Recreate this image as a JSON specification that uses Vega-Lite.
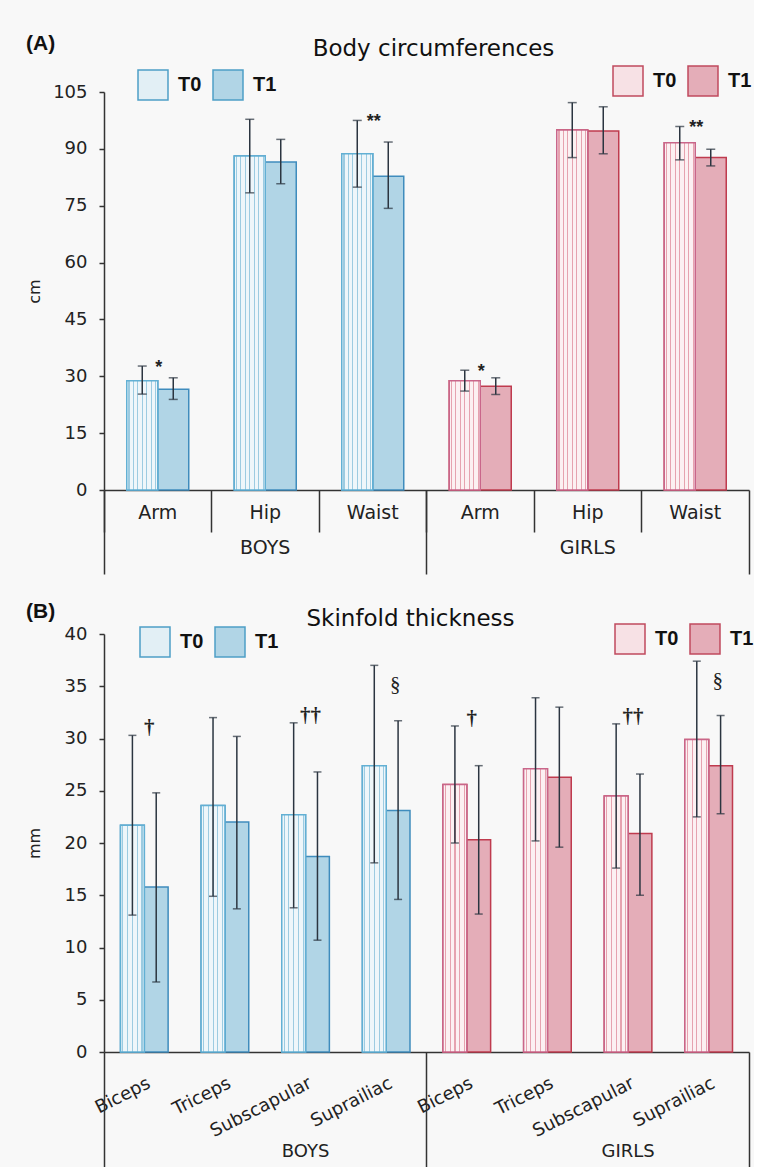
{
  "$schema": "https://vega.github.io/schema/vega-lite/v6.json",
  "background": "#f8f8f8",
  "padding": {"left": 26, "top": 33, "right": 0, "bottom": 0},
  "spacing": 26,
  "resolve": {"scale": {"xOffset": "independent", "x": "independent", "y": "independent", "fill": "independent"}},
  "datasets": {
    "circ": [
      {"group": "BOYS", "cat": "BOYS Arm", "time": "T0", "mean": 28.8, "lo": 25.3, "hi": 32.7, "sig": "*"},
      {"group": "BOYS", "cat": "BOYS Arm", "time": "T1", "mean": 26.6, "lo": 23.9, "hi": 29.6, "sig": null},
      {"group": "BOYS", "cat": "BOYS Hip", "time": "T0", "mean": 88.1, "lo": 78.4, "hi": 97.8, "sig": null},
      {"group": "BOYS", "cat": "BOYS Hip", "time": "T1", "mean": 86.5, "lo": 80.8, "hi": 92.5, "sig": null},
      {"group": "BOYS", "cat": "BOYS Waist", "time": "T0", "mean": 88.7, "lo": 79.9, "hi": 97.5, "sig": "**"},
      {"group": "BOYS", "cat": "BOYS Waist", "time": "T1", "mean": 82.8, "lo": 74.3, "hi": 91.8, "sig": null},
      {"group": "GIRLS", "cat": "GIRLS Arm", "time": "T0", "mean": 28.8, "lo": 26.1, "hi": 31.6, "sig": "*"},
      {"group": "GIRLS", "cat": "GIRLS Arm", "time": "T1", "mean": 27.4, "lo": 25.2, "hi": 29.6, "sig": null},
      {"group": "GIRLS", "cat": "GIRLS Hip", "time": "T0", "mean": 95.0, "lo": 87.7, "hi": 102.2, "sig": null},
      {"group": "GIRLS", "cat": "GIRLS Hip", "time": "T1", "mean": 94.7, "lo": 88.7, "hi": 101.1, "sig": null},
      {"group": "GIRLS", "cat": "GIRLS Waist", "time": "T0", "mean": 91.6, "lo": 87.1, "hi": 95.9, "sig": "**"},
      {"group": "GIRLS", "cat": "GIRLS Waist", "time": "T1", "mean": 87.7, "lo": 85.5, "hi": 89.9, "sig": null}
    ],
    "skin": [
      {"group": "BOYS", "cat": "BOYS Biceps", "time": "T0", "mean": 21.7, "lo": 13.1, "hi": 30.3, "sig": "†"},
      {"group": "BOYS", "cat": "BOYS Biceps", "time": "T1", "mean": 15.8, "lo": 6.7, "hi": 24.8, "sig": null},
      {"group": "BOYS", "cat": "BOYS Triceps", "time": "T0", "mean": 23.6, "lo": 14.9, "hi": 32.0, "sig": null},
      {"group": "BOYS", "cat": "BOYS Triceps", "time": "T1", "mean": 22.0, "lo": 13.7, "hi": 30.2, "sig": null},
      {"group": "BOYS", "cat": "BOYS Subscapular", "time": "T0", "mean": 22.7, "lo": 13.8, "hi": 31.5, "sig": "††"},
      {"group": "BOYS", "cat": "BOYS Subscapular", "time": "T1", "mean": 18.7, "lo": 10.7, "hi": 26.8, "sig": null},
      {"group": "BOYS", "cat": "BOYS Suprailiac", "time": "T0", "mean": 27.4, "lo": 18.1, "hi": 37.0, "sig": "§"},
      {"group": "BOYS", "cat": "BOYS Suprailiac", "time": "T1", "mean": 23.1, "lo": 14.6, "hi": 31.7, "sig": null},
      {"group": "GIRLS", "cat": "GIRLS Biceps", "time": "T0", "mean": 25.6, "lo": 20.0, "hi": 31.2, "sig": "†"},
      {"group": "GIRLS", "cat": "GIRLS Biceps", "time": "T1", "mean": 20.3, "lo": 13.2, "hi": 27.4, "sig": null},
      {"group": "GIRLS", "cat": "GIRLS Triceps", "time": "T0", "mean": 27.1, "lo": 20.2, "hi": 33.9, "sig": null},
      {"group": "GIRLS", "cat": "GIRLS Triceps", "time": "T1", "mean": 26.3, "lo": 19.6, "hi": 33.0, "sig": null},
      {"group": "GIRLS", "cat": "GIRLS Subscapular", "time": "T0", "mean": 24.5, "lo": 17.6, "hi": 31.4, "sig": "††"},
      {"group": "GIRLS", "cat": "GIRLS Subscapular", "time": "T1", "mean": 20.9, "lo": 15.0, "hi": 26.6, "sig": null},
      {"group": "GIRLS", "cat": "GIRLS Suprailiac", "time": "T0", "mean": 29.9, "lo": 22.5, "hi": 37.4, "sig": "§"},
      {"group": "GIRLS", "cat": "GIRLS Suprailiac", "time": "T1", "mean": 27.4, "lo": 22.8, "hi": 32.2, "sig": null}
    ]
  },
  "config": {
    "font": "DejaVu Sans",
    "view": {"stroke": null},
    "axis": {"labelFont": "DejaVu Sans", "titleFont": "DejaVu Sans", "labelColor": "#222", "titleColor": "#222", "domainColor": "#333", "tickColor": "#333", "domainWidth": 1.5, "tickWidth": 1.5, "grid": false, "titleFontWeight": "normal"},
    "legend": {"labelFont": "Liberation Sans", "labelFontWeight": "bold", "labelFontSize": 20, "labelColor": "#111", "symbolType": "square", "symbolSize": 900, "direction": "horizontal", "orient": "none", "title": null, "labelOffset": 9, "columnPadding": 8, "symbolStrokeWidth": 1.5, "symbolOpacity": 1},
    "title": {"font": "DejaVu Sans", "color": "#111"}
  },
  "vconcat": [
    {
      "title": {"text": "(A)", "font": "Liberation Sans", "anchor": "start", "frame": "bounds", "fontSize": 21, "fontWeight": "bold", "dy": 16, "offset": 0},
      "resolve": {"scale": {"xOffset": "independent"}},
      "vconcat": [
        {
          "title": {"text": "Body circumferences", "fontSize": 23, "fontWeight": "normal", "anchor": "middle", "offset": 4, "dx": 7},
          "width": 645,
          "height": 398,
          "data": {"name": "circ"},
          "layer": [
            {
              "transform": [{"filter": "datum.group === 'BOYS'"}],
              "mark": {"type": "bar", "stroke": "#3f8cbd", "strokeWidth": 1.5},
              "encoding": {
                "x": {"field": "cat", "type": "nominal", "sort": null, "scale": {"domain": ["BOYS Arm", "BOYS Hip", "BOYS Waist", "GIRLS Arm", "GIRLS Hip", "GIRLS Waist"], "paddingInner": 0, "paddingOuter": 0}, "axis": {"labelExpr": "split(datum.label, ' ')[1]", "ticks": false, "labelAngle": 0, "labelFontSize": 19, "labelPadding": 13, "title": null, "orient": "bottom"}},
                "xOffset": {"field": "time", "type": "nominal", "scale": {"domain": ["T0", "T1"], "paddingInner": 0, "paddingOuter": 0.734}},
                "y": {"field": "mean", "type": "quantitative", "scale": {"domain": [0, 105], "nice": false}, "axis": {"title": "cm", "values": [0, 15, 30, 45, 60, 75, 90, 105], "tickSize": 5, "labelFontSize": 18, "labelPadding": 12, "titleFontSize": 16, "titlePadding": 10, "minExtent": 52, "maxExtent": 52}},
                "fill": {"field": "time", "type": "nominal", "scale": {"domain": ["T0", "T1"], "range": ["#e2eff5", "#b1d5e6"]},
                  "legend": {"orient": "none", "legendX": 33, "legendY": -23, "direction": "horizontal", "symbolStrokeColor": "#4d9fc6", "title": null}}
              }
            },
            {
              "transform": [{"filter": "datum.group === 'GIRLS'"}],
              "mark": {"type": "bar", "stroke": "#bf3b4e", "strokeWidth": 1.5},
              "encoding": {
                "x": {"field": "cat", "type": "nominal", "sort": null, "axis": {"orient": "bottom", "bandPosition": 0, "ticks": true, "tickSize": 42, "labels": false, "domain": false, "title": null}},
                "xOffset": {"field": "time", "type": "nominal"},
                "y": {"field": "mean", "type": "quantitative"},
                "fill": {"field": "time", "type": "nominal", "scale": {"domain": ["T0", "T1"], "range": ["#f7e1e5", "#e4adb8"]},
                  "legend": {"orient": "none", "legendX": 508, "legendY": -27, "direction": "horizontal", "symbolStrokeColor": "#c04a5e", "title": null}}
              }
            },
            {
              "transform": [{"filter": "datum.group === 'BOYS' && datum.time === 'T0'"}],
              "mark": {"type": "bar", "stroke": "#62b0d4", "strokeWidth": 1.5, "fill": {"gradient": "linear", "x1": 0, "y1": 0, "x2": 1, "y2": 0, "stops": [
                {"offset": 0, "color": "#eef6fa"}, {"offset": 0.055, "color": "#eef6fa"}, {"offset": 0.055, "color": "#9ccbe1"}, {"offset": 0.09, "color": "#9ccbe1"}, {"offset": 0.09, "color": "#eef6fa"},
                {"offset": 0.198, "color": "#eef6fa"}, {"offset": 0.198, "color": "#9ccbe1"}, {"offset": 0.233, "color": "#9ccbe1"}, {"offset": 0.233, "color": "#eef6fa"},
                {"offset": 0.341, "color": "#eef6fa"}, {"offset": 0.341, "color": "#9ccbe1"}, {"offset": 0.376, "color": "#9ccbe1"}, {"offset": 0.376, "color": "#eef6fa"},
                {"offset": 0.484, "color": "#eef6fa"}, {"offset": 0.484, "color": "#9ccbe1"}, {"offset": 0.519, "color": "#9ccbe1"}, {"offset": 0.519, "color": "#eef6fa"},
                {"offset": 0.626, "color": "#eef6fa"}, {"offset": 0.626, "color": "#9ccbe1"}, {"offset": 0.661, "color": "#9ccbe1"}, {"offset": 0.661, "color": "#eef6fa"},
                {"offset": 0.769, "color": "#eef6fa"}, {"offset": 0.769, "color": "#9ccbe1"}, {"offset": 0.804, "color": "#9ccbe1"}, {"offset": 0.804, "color": "#eef6fa"},
                {"offset": 0.912, "color": "#eef6fa"}, {"offset": 0.912, "color": "#9ccbe1"}, {"offset": 0.947, "color": "#9ccbe1"}, {"offset": 0.947, "color": "#eef6fa"},
                {"offset": 1, "color": "#eef6fa"}]}},
              "encoding": {
                "x": {"field": "cat", "type": "nominal", "sort": null, "axis": {"orient": "bottom", "values": ["BOYS Arm", "GIRLS Arm"], "bandPosition": 0, "ticks": true, "tickSize": 84, "labels": false, "domain": false, "title": null}},
                "xOffset": {"field": "time", "type": "nominal"},
                "y": {"field": "mean", "type": "quantitative"}
              }
            },
            {
              "transform": [{"filter": "datum.group === 'GIRLS' && datum.time === 'T0'"}],
              "mark": {"type": "bar", "stroke": "#c9668a", "strokeWidth": 1.5, "fill": {"gradient": "linear", "x1": 0, "y1": 0, "x2": 1, "y2": 0, "stops": [
                {"offset": 0, "color": "#fcf0f2"}, {"offset": 0.055, "color": "#fcf0f2"}, {"offset": 0.055, "color": "#e6a2af"}, {"offset": 0.09, "color": "#e6a2af"}, {"offset": 0.09, "color": "#fcf0f2"},
                {"offset": 0.198, "color": "#fcf0f2"}, {"offset": 0.198, "color": "#e6a2af"}, {"offset": 0.233, "color": "#e6a2af"}, {"offset": 0.233, "color": "#fcf0f2"},
                {"offset": 0.341, "color": "#fcf0f2"}, {"offset": 0.341, "color": "#e6a2af"}, {"offset": 0.376, "color": "#e6a2af"}, {"offset": 0.376, "color": "#fcf0f2"},
                {"offset": 0.484, "color": "#fcf0f2"}, {"offset": 0.484, "color": "#e6a2af"}, {"offset": 0.519, "color": "#e6a2af"}, {"offset": 0.519, "color": "#fcf0f2"},
                {"offset": 0.626, "color": "#fcf0f2"}, {"offset": 0.626, "color": "#e6a2af"}, {"offset": 0.661, "color": "#e6a2af"}, {"offset": 0.661, "color": "#fcf0f2"},
                {"offset": 0.769, "color": "#fcf0f2"}, {"offset": 0.769, "color": "#e6a2af"}, {"offset": 0.804, "color": "#e6a2af"}, {"offset": 0.804, "color": "#fcf0f2"},
                {"offset": 0.912, "color": "#fcf0f2"}, {"offset": 0.912, "color": "#e6a2af"}, {"offset": 0.947, "color": "#e6a2af"}, {"offset": 0.947, "color": "#fcf0f2"},
                {"offset": 1, "color": "#fcf0f2"}]}},
              "encoding": {
                "x": {"field": "cat", "type": "nominal", "sort": null, "axis": {"orient": "bottom", "values": ["GIRLS Waist"], "bandPosition": 1, "ticks": true, "tickSize": 84, "labels": false, "domain": false, "title": null}},
                "xOffset": {"field": "time", "type": "nominal"},
                "y": {"field": "mean", "type": "quantitative"}
              }
            },
            {
              "mark": {"type": "rule", "color": "#2b3540", "strokeWidth": 1.5},
              "encoding": {
                "x": {"field": "cat", "type": "nominal", "sort": null, "axis": {"orient": "bottom", "values": ["BOYS Hip", "GIRLS Hip"], "labelExpr": "split(datum.label, ' ')[0]", "ticks": false, "domain": false, "labelPadding": 48, "labelFontSize": 19, "labelAngle": 0, "title": null}},
                "xOffset": {"field": "time", "type": "nominal"},
                "y": {"field": "lo", "type": "quantitative"},
                "y2": {"field": "hi"}
              }
            },
            {
              "mark": {"type": "tick", "color": "#2b3540", "thickness": 1.5, "size": 9, "orient": "horizontal"},
              "encoding": {
                "x": {"field": "cat", "type": "nominal", "sort": null, "axis": null},
                "xOffset": {"field": "time", "type": "nominal"},
                "y": {"field": "hi", "type": "quantitative"}
              }
            },
            {
              "mark": {"type": "tick", "color": "#2b3540", "thickness": 1.5, "size": 9, "orient": "horizontal"},
              "encoding": {
                "x": {"field": "cat", "type": "nominal", "sort": null, "axis": null},
                "xOffset": {"field": "time", "type": "nominal"},
                "y": {"field": "lo", "type": "quantitative"}
              }
            },
            {
              "transform": [{"filter": "datum.sig != null"}],
              "mark": {"type": "text", "font": "Liberation Sans", "fontSize": 18, "fontWeight": "bold", "color": "#222", "baseline": "middle", "dy": 2, "dx": 1},
              "encoding": {
                "x": {"field": "cat", "type": "nominal", "sort": null, "axis": null},
                "y": {"field": "hi", "type": "quantitative"},
                "text": {"field": "sig"}
              }
            }
          ],
          "resolve": {"scale": {"fill": "independent"}, "legend": {"fill": "independent"}, "axis": {"x": "independent"}}
        }
      ]
    },
    {
      "title": {"text": "(B)", "font": "Liberation Sans", "anchor": "start", "frame": "bounds", "fontSize": 21, "fontWeight": "bold", "dy": 14, "offset": 0},
      "resolve": {"scale": {"xOffset": "independent"}},
      "vconcat": [
        {
          "title": {"text": "Skinfold thickness", "fontSize": 23, "fontWeight": "normal", "anchor": "middle", "offset": -8, "dx": -16},
          "width": 645,
          "height": 418,
          "data": {"name": "skin"},
          "layer": [
            {
              "transform": [{"filter": "datum.group === 'BOYS'"}],
              "mark": {"type": "bar", "stroke": "#3f8cbd", "strokeWidth": 1.5},
              "encoding": {
                "x": {"field": "cat", "type": "nominal", "sort": null, "scale": {"domain": ["BOYS Biceps", "BOYS Triceps", "BOYS Subscapular", "BOYS Suprailiac", "GIRLS Biceps", "GIRLS Triceps", "GIRLS Subscapular", "GIRLS Suprailiac"], "paddingInner": 0, "paddingOuter": 0}, "axis": {"labelExpr": "split(datum.label, ' ')[1]", "ticks": false, "labelAngle": -27, "labelAlign": "right", "labelBaseline": "middle", "labelFontSize": 18, "labelPadding": 30, "labelOffset": 5, "title": null, "orient": "bottom", "labelOverlap": false}},
                "xOffset": {"field": "time", "type": "nominal", "scale": {"domain": ["T0", "T1"], "paddingInner": 0, "paddingOuter": 0.693}},
                "y": {"field": "mean", "type": "quantitative", "scale": {"domain": [0, 40], "nice": false}, "axis": {"title": "mm", "values": [0, 5, 10, 15, 20, 25, 30, 35, 40], "tickSize": 5, "labelFontSize": 18, "labelPadding": 12, "titleFontSize": 16, "titlePadding": 10, "minExtent": 52, "maxExtent": 52}},
                "fill": {"field": "time", "type": "nominal", "scale": {"domain": ["T0", "T1"], "range": ["#e2eff5", "#b1d5e6"]},
                  "legend": {"orient": "none", "legendX": 35, "legendY": -8, "direction": "horizontal", "symbolStrokeColor": "#4d9fc6", "title": null}}
              }
            },
            {
              "transform": [{"filter": "datum.group === 'GIRLS'"}],
              "mark": {"type": "bar", "stroke": "#bf3b4e", "strokeWidth": 1.5},
              "encoding": {
                "x": {"field": "cat", "type": "nominal", "sort": null, "axis": {"orient": "bottom", "values": ["BOYS Biceps", "GIRLS Biceps"], "bandPosition": 0, "ticks": true, "tickSize": 130, "labels": false, "domain": false, "title": null}},
                "xOffset": {"field": "time", "type": "nominal"},
                "y": {"field": "mean", "type": "quantitative"},
                "fill": {"field": "time", "type": "nominal", "scale": {"domain": ["T0", "T1"], "range": ["#f7e1e5", "#e4adb8"]},
                  "legend": {"orient": "none", "legendX": 510, "legendY": -11, "direction": "horizontal", "symbolStrokeColor": "#c04a5e", "title": null}}
              }
            },
            {
              "transform": [{"filter": "datum.group === 'BOYS' && datum.time === 'T0'"}],
              "mark": {"type": "bar", "stroke": "#62b0d4", "strokeWidth": 1.5, "fill": {"gradient": "linear", "x1": 0, "y1": 0, "x2": 1, "y2": 0, "stops": [
                {"offset": 0, "color": "#eef6fa"}, {"offset": 0.08, "color": "#eef6fa"}, {"offset": 0.08, "color": "#9ccbe1"}, {"offset": 0.125, "color": "#9ccbe1"}, {"offset": 0.125, "color": "#eef6fa"},
                {"offset": 0.28, "color": "#eef6fa"}, {"offset": 0.28, "color": "#9ccbe1"}, {"offset": 0.325, "color": "#9ccbe1"}, {"offset": 0.325, "color": "#eef6fa"},
                {"offset": 0.48, "color": "#eef6fa"}, {"offset": 0.48, "color": "#9ccbe1"}, {"offset": 0.525, "color": "#9ccbe1"}, {"offset": 0.525, "color": "#eef6fa"},
                {"offset": 0.68, "color": "#eef6fa"}, {"offset": 0.68, "color": "#9ccbe1"}, {"offset": 0.725, "color": "#9ccbe1"}, {"offset": 0.725, "color": "#eef6fa"},
                {"offset": 0.88, "color": "#eef6fa"}, {"offset": 0.88, "color": "#9ccbe1"}, {"offset": 0.925, "color": "#9ccbe1"}, {"offset": 0.925, "color": "#eef6fa"},
                {"offset": 1, "color": "#eef6fa"}]}},
              "encoding": {
                "x": {"field": "cat", "type": "nominal", "sort": null, "axis": {"orient": "bottom", "values": ["GIRLS Suprailiac"], "bandPosition": 1, "ticks": true, "tickSize": 130, "labels": false, "domain": false, "title": null}},
                "xOffset": {"field": "time", "type": "nominal"},
                "y": {"field": "mean", "type": "quantitative"}
              }
            },
            {
              "transform": [{"filter": "datum.group === 'GIRLS' && datum.time === 'T0'"}],
              "mark": {"type": "bar", "stroke": "#c9668a", "strokeWidth": 1.5, "fill": {"gradient": "linear", "x1": 0, "y1": 0, "x2": 1, "y2": 0, "stops": [
                {"offset": 0, "color": "#fcf0f2"}, {"offset": 0.08, "color": "#fcf0f2"}, {"offset": 0.08, "color": "#e6a2af"}, {"offset": 0.125, "color": "#e6a2af"}, {"offset": 0.125, "color": "#fcf0f2"},
                {"offset": 0.28, "color": "#fcf0f2"}, {"offset": 0.28, "color": "#e6a2af"}, {"offset": 0.325, "color": "#e6a2af"}, {"offset": 0.325, "color": "#fcf0f2"},
                {"offset": 0.48, "color": "#fcf0f2"}, {"offset": 0.48, "color": "#e6a2af"}, {"offset": 0.525, "color": "#e6a2af"}, {"offset": 0.525, "color": "#fcf0f2"},
                {"offset": 0.68, "color": "#fcf0f2"}, {"offset": 0.68, "color": "#e6a2af"}, {"offset": 0.725, "color": "#e6a2af"}, {"offset": 0.725, "color": "#fcf0f2"},
                {"offset": 0.88, "color": "#fcf0f2"}, {"offset": 0.88, "color": "#e6a2af"}, {"offset": 0.925, "color": "#e6a2af"}, {"offset": 0.925, "color": "#fcf0f2"},
                {"offset": 1, "color": "#fcf0f2"}]}},
              "encoding": {
                "x": {"field": "cat", "type": "nominal", "sort": null, "axis": {"orient": "bottom", "values": ["BOYS Subscapular", "GIRLS Subscapular"], "bandPosition": 0, "labelExpr": "split(datum.label, ' ')[0]", "ticks": false, "domain": false, "labelPadding": 90, "labelFontSize": 18, "labelAngle": 0, "title": null}},
                "xOffset": {"field": "time", "type": "nominal"},
                "y": {"field": "mean", "type": "quantitative"}
              }
            },
            {
              "mark": {"type": "rule", "color": "#2b3540", "strokeWidth": 1.5},
              "encoding": {
                "x": {"field": "cat", "type": "nominal", "sort": null, "axis": null},
                "xOffset": {"field": "time", "type": "nominal"},
                "y": {"field": "lo", "type": "quantitative"},
                "y2": {"field": "hi"}
              }
            },
            {
              "mark": {"type": "tick", "color": "#2b3540", "thickness": 1.5, "size": 8, "orient": "horizontal"},
              "encoding": {
                "x": {"field": "cat", "type": "nominal", "sort": null, "axis": null},
                "xOffset": {"field": "time", "type": "nominal"},
                "y": {"field": "hi", "type": "quantitative"}
              }
            },
            {
              "mark": {"type": "tick", "color": "#2b3540", "thickness": 1.5, "size": 8, "orient": "horizontal"},
              "encoding": {
                "x": {"field": "cat", "type": "nominal", "sort": null, "axis": null},
                "xOffset": {"field": "time", "type": "nominal"},
                "y": {"field": "lo", "type": "quantitative"}
              }
            },
            {
              "transform": [{"filter": "datum.sig != null && datum.sig !== '§'"}],
              "mark": {"type": "text", "font": "Liberation Serif", "fontSize": 21, "fontWeight": "bold", "color": "#222", "baseline": "middle", "dy": -7, "dx": 5},
              "encoding": {
                "x": {"field": "cat", "type": "nominal", "sort": null, "axis": null},
                "y": {"field": "hi", "type": "quantitative"},
                "text": {"field": "sig"}
              }
            },
            {
              "transform": [{"filter": "datum.sig === '§'"}],
              "mark": {"type": "text", "font": "Liberation Serif", "fontSize": 21, "color": "#222", "baseline": "middle", "dy": 20, "dx": 9},
              "encoding": {
                "x": {"field": "cat", "type": "nominal", "sort": null, "axis": null},
                "y": {"field": "hi", "type": "quantitative"},
                "text": {"field": "sig"}
              }
            }
          ],
          "resolve": {"scale": {"fill": "independent"}, "legend": {"fill": "independent"}, "axis": {"x": "independent"}}
        }
      ]
    }
  ]
}
